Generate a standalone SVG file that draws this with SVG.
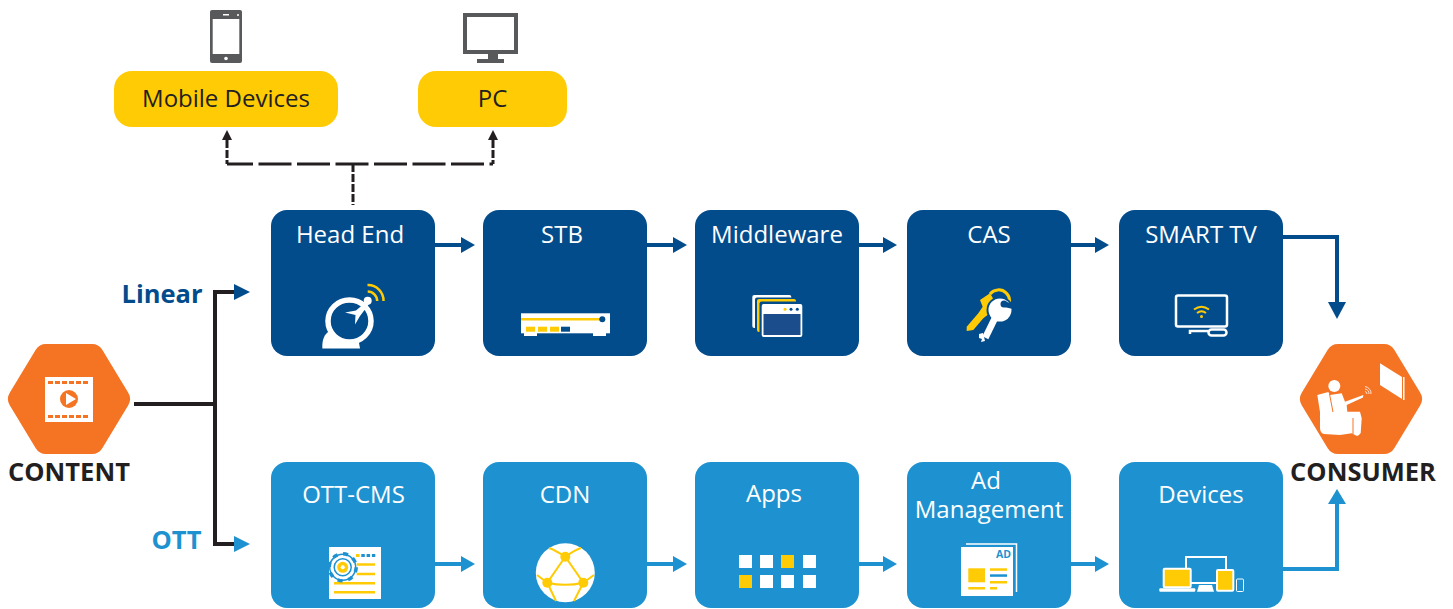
<svg xmlns="http://www.w3.org/2000/svg" width="1453" height="609" viewBox="0 0 1453 609">
<style>
text{font-family:"Open Sans","Noto Sans","Liberation Sans",sans-serif}
.t{font-size:24px;fill:#fff;text-anchor:middle}
.y{font-size:24px;fill:#231f20;text-anchor:middle}
.h{font-size:25.500px;font-weight:700;fill:#231f20;text-anchor:middle}
.dk{fill:#034c8c}.lt{fill:#1e92d0}.yl{fill:#ffcb05}.wh{fill:#fff}.gr{fill:#58595b}
.or{fill:#f47424;stroke:#f47424;stroke-width:24;stroke-linejoin:round}
.cd{fill:none;stroke:#034c8c;stroke-width:4}
.cl{fill:none;stroke:#1e92d0;stroke-width:4}
.ck{fill:none;stroke:#231f20;stroke-width:4}
.ws{fill:none;stroke:#fff;stroke-width:2.5}
.ys{fill:none;stroke:#ffcb05}
</style>
<g id="connectors">
<path class="ck" d="M134 404H215M234 292H215V544H234"/>
<polygon class="dk" points="234,284 250,292 234,300"/>
<polygon class="lt" points="234,536 250,544 234,552"/>
<g fill="none" stroke="#231f20" stroke-width="3">
<path d="M227 140V164" stroke-dasharray="8 2"/>
<path d="M493 140V164" stroke-dasharray="8 2"/>
<path d="M353 164V205" stroke-dasharray="8 2"/>
<path d="M227 164H493" stroke-dasharray="33 5.500" stroke-dashoffset="7"/>
</g>
<polygon fill="#231f20" points="227,130 222,140 232,140"/>
<polygon fill="#231f20" points="493,130 488,140 498,140"/>
<path class="cd" d="M435 245H462M647 245H674M859 245H884M1071 245H1096M1283 237H1337V304"/>
<polygon class="dk" points="461,237 475,245 461,253"/>
<polygon class="dk" points="673,237 687,245 673,253"/>
<polygon class="dk" points="883,237 897,245 883,253"/>
<polygon class="dk" points="1095,237 1109,245 1095,253"/>
<polygon class="dk" points="1328,302 1346,302 1337,319"/>
<path class="cl" d="M435 564H462M647 564H674M859 564H884M1071 564H1096M1283 569H1337V503"/>
<polygon class="lt" points="461,556 475,564 461,572"/>
<polygon class="lt" points="673,556 687,564 673,572"/>
<polygon class="lt" points="883,556 897,564 883,572"/>
<polygon class="lt" points="1095,556 1109,564 1095,572"/>
<polygon class="lt" points="1328,504 1346,504 1337,489"/>
</g>
<text x="162" y="302.500" fill="#034c8c" text-anchor="middle" style="font-size:25.500px;font-weight:700">Linear</text>
<text x="176.500" y="548.500" fill="#1e92d0" text-anchor="middle" style="font-size:25.500px;font-weight:700">OTT</text>
<g id="mobile">
<rect class="yl" x="114" y="71" width="224" height="56" rx="18"/>
<text class="y" x="226" y="107">Mobile Devices</text>
<rect class="gr" x="210" y="10" width="32" height="53" rx="2"/>
<rect class="wh" x="212.700" y="19" width="26.600" height="35"/>
<rect class="wh" x="223" y="14" width="6" height="1.500"/>
<circle class="wh" cx="238" cy="15" r="1"/><circle class="wh" cx="226" cy="58.500" r="1.800"/>
</g>
<g id="pc">
<rect class="yl" x="418" y="71" width="149" height="56" rx="18"/>
<text class="y" x="492.500" y="107">PC</text>
<rect class="gr" x="463" y="13" width="55" height="41"/>
<rect class="wh" x="467" y="17" width="47" height="33"/>
<rect class="gr" x="488" y="54" width="10" height="6"/>
<rect class="gr" x="477" y="59" width="27" height="4"/>
</g>
<g id="content">
<polygon class="or" points="46,356 92,356 118,399 92,442 46,442 20,399"/>
<rect class="wh" x="45" y="377" width="48" height="45"/>
<path d="M48 382.500H90M48 416.500H90" fill="none" stroke="#f47424" stroke-width="3" stroke-dasharray="5 2"/>
<circle cx="69" cy="399" r="9" fill="#f47424"/>
<polygon class="wh" points="66,393 76,399 66,405"/>
<text class="h" x="69" y="481">CONTENT</text>
</g>
<g id="headend">
<rect class="dk" x="271" y="210" width="164" height="146" rx="16"/>
<text class="t" x="350" y="243">Head End</text>
<path class="wh" d="M322.300 348.500C322 340 324 334 330 331L359 343L360 348.500Z"/>
<ellipse cx="349.500" cy="321" rx="21.500" ry="21" fill="#034c8c" stroke="#fff" stroke-width="5.500"/>
<polygon class="wh" points="345,312.500 356,310.500 366,302 369,304 360,316 355,324.500 355.500,315"/>
<circle class="wh" cx="367.700" cy="300.700" r="4"/>
<path class="ys" stroke-width="2.500" d="M367.700 291.500A9.500 9.500 0 0 1 377.200 301M367.500 285A15.500 15.500 0 0 1 383.500 301"/>
</g>
<g id="stb">
<rect class="dk" x="483" y="210" width="164" height="146" rx="16"/>
<text class="t" x="562" y="243">STB</text>
<rect class="wh" x="521" y="313.300" width="89" height="20"/>
<rect class="wh" x="524" y="333" width="13" height="3"/><rect class="wh" x="593" y="333" width="13" height="3"/>
<rect class="yl" x="521" y="318" width="79" height="2.500"/>
<circle class="dk" cx="602.300" cy="319.300" r="3"/>
<rect class="yl" x="526" y="326.700" width="9" height="5"/><rect class="yl" x="538" y="326.700" width="9" height="5"/><rect class="yl" x="550" y="326.700" width="9" height="5"/><rect class="dk" x="561" y="326.700" width="9" height="5"/>
</g>
<g id="middleware">
<rect class="dk" x="695" y="210" width="164" height="146" rx="16"/>
<text class="t" x="777" y="243">Middleware</text>
<rect class="wh" x="752.300" y="295" width="39" height="33" rx="2"/>
<rect class="dk" x="755" y="297.500" width="38" height="33" rx="2"/>
<rect class="yl" x="757" y="299" width="39" height="33" rx="2"/>
<rect class="dk" x="759.500" y="301.500" width="45" height="38" rx="2"/>
<rect class="wh" x="761.700" y="304" width="40.600" height="33" rx="2"/>
<rect x="763.500" y="314" width="37" height="21" fill="#1b4c8c"/>
<circle class="yl" cx="785" cy="309.300" r="1.500"/><circle class="dk" cx="791" cy="309.300" r="1.500"/><circle class="dk" cx="797.300" cy="309.300" r="1.500"/>
</g>
<g id="cas">
<rect class="dk" x="907" y="210" width="164" height="146" rx="16"/>
<text class="t" x="989" y="243">CAS</text>
<path class="yl" d="M980 300L990 293.300L995 301.700L991.700 311.700L983.300 318.300L973.300 330L966.700 331L966.700 326.700L978.300 313.300L982.700 306.700Z"/>
<path d="M990 294A11 11 0 1 1 1006 309" fill="none" stroke="#ffcb05" stroke-width="3"/>
<circle cx="1000" cy="310" r="13.500" class="dk"/>
<circle class="wh" cx="1000" cy="310" r="11.500"/>
<rect class="wh" x="-3.300" y="0" width="6.600" height="22" transform="translate(995,318) rotate(26)"/>
<polygon class="wh" points="983,333 979,334 979,338 982,339 981,342 985,341"/>
<circle class="dk" cx="1004" cy="304" r="3.500"/>
<polygon class="dk" points="1004,301 1013,304 1013,309 1004,307"/>
</g>
<g id="smarttv">
<rect class="dk" x="1119" y="210" width="164" height="146" rx="16"/>
<text class="t" x="1201" y="243">SMART TV</text>
<rect class="ws" x="1176" y="295.500" width="51" height="31" rx="2"/>
<path class="ws" d="M1190 334V331H1208"/>
<rect class="ws" x="1208.500" y="329.500" width="18" height="6" rx="3"/>
<path class="ys" stroke-width="2" d="M1194 309.500Q1201.500 304 1209 309.500M1197 313Q1201.500 309.500 1206 313"/>
<circle class="yl" cx="1201.500" cy="316.500" r="1.500"/>
</g>
<g id="consumer">
<polygon class="or" points="1338,356 1384,356 1410,399 1384,442 1338,442 1312,399"/>
<circle class="wh" cx="1334.300" cy="386" r="6"/>
<path class="wh" d="M1317.300 395L1328.300 392L1330 395L1341.700 393.300L1345 401.700L1363.300 395L1363 397.500L1346.700 405L1347.300 411.700L1360 411.700L1361.700 418.300L1360.700 433Q1358 437 1356 435.500L1351.700 433.300L1340 435L1324 434Q1320 433 1320 428L1320 412Z"/>
<path d="M1329.500 394L1333 412M1353 418V434" fill="none" stroke="#f47424" stroke-width="1"/>
<polygon class="wh" points="1380,363.300 1402,377 1402,399 1380,385"/>
<rect class="wh" x="1403" y="377" width="1.500" height="23"/>
<path d="M1365 386.500A7 7 0 0 1 1371 394M1365 389A4.500 4.500 0 0 1 1369 394M1365 391.500A2.500 2.500 0 0 1 1367 394" fill="none" stroke="#fff" stroke-width="0.800"/>
<text class="h" x="1363" y="481">CONSUMER</text>
</g>
<g id="ottcms">
<rect class="lt" x="271" y="462" width="164" height="146" rx="16"/>
<text class="t" x="353.500" y="503">OTT-CMS</text>
<rect class="wh" x="329" y="547" width="52" height="52"/>
<path class="ys" stroke-width="2.500" d="M356.700 564.500H375M356.700 574H375M334 583.300H375M334 592.300H375"/>
<rect class="yl" x="356" y="554" width="3.500" height="3"/>
<path d="M361.300 555.500H375.300" fill="none" stroke="#1e92d0" stroke-width="3" stroke-dasharray="3.500 1.800"/>
<circle cx="342.700" cy="567.300" r="13" fill="#fff" stroke="#1e92d0" stroke-width="1.500"/>
<circle cx="342.700" cy="567.300" r="13.500" fill="none" stroke="#1e92d0" stroke-width="3.500" stroke-dasharray="5 5.600"/>
<circle cx="342.700" cy="567.300" r="8.500" fill="#fff" stroke="#1e92d0" stroke-width="1.500"/>
<circle class="yl" cx="342.700" cy="567.300" r="5.500"/>
<circle class="wh" cx="342.700" cy="567.300" r="2"/>
</g>
<g id="cdn">
<rect class="lt" x="483" y="462" width="164" height="146" rx="16"/>
<text class="t" x="565" y="503">CDN</text>
<circle class="wh" cx="565.300" cy="572.700" r="29.500"/>
<g class="ys" stroke-width="2">
<path d="M565.300 556.700L547.300 582.700Q565 587 583.300 582.700ZM565.300 556.700Q555 550 549 548M565.300 556.700Q575 550 581 548M547.300 582.700L537 575M547.300 582.700L556 601M583.300 582.700L594 575M583.300 582.700L574 601"/>
</g>
<circle class="yl" cx="565.300" cy="556.700" r="5"/><circle class="yl" cx="547.300" cy="582.700" r="5"/><circle class="yl" cx="583.300" cy="582.700" r="5"/>
</g>
<g id="apps">
<rect class="lt" x="695" y="462" width="164" height="146" rx="16"/>
<text class="t" x="774" y="502">Apps</text>
<rect class="wh" x="739" y="555" width="13" height="13"/><rect class="wh" x="760" y="555" width="13" height="13"/><rect class="yl" x="781" y="555" width="13" height="13"/><rect class="wh" x="803" y="555" width="13" height="13"/>
<rect class="yl" x="739" y="575" width="13" height="13"/><rect class="wh" x="760" y="575" width="13" height="13"/><rect class="wh" x="781" y="575" width="13" height="13"/><rect class="wh" x="803" y="575" width="13" height="13"/>
</g>
<g id="ad">
<rect class="lt" x="907" y="462" width="164" height="146" rx="16"/>
<text class="t" x="986" y="489">Ad</text>
<text class="t" x="989" y="518">Management</text>
<path d="M966 544H1016.500V592" fill="none" stroke="#fff" stroke-width="1.500"/>
<rect class="wh" x="961" y="547" width="52" height="49"/>
<text x="996" y="558" style="font-size:10.500px;font-weight:700;fill:#1e92d0">AD</text>
<rect class="yl" x="968.300" y="568.300" width="16.700" height="14"/>
<rect class="yl" x="990" y="568.300" width="17" height="2.500"/><rect class="lt" x="990" y="574.300" width="17" height="2.500"/><rect class="yl" x="990" y="581" width="17" height="2.500"/>
<rect class="yl" x="968.300" y="587" width="16.700" height="2.500"/><rect class="yl" x="990" y="587" width="7" height="2.500"/>
</g>
<g id="devices">
<rect class="lt" x="1119" y="462" width="164" height="146" rx="16"/>
<text class="t" x="1201" y="503">Devices</text>
<path d="M1186 568V557H1226V570M1191 583H1216" fill="none" stroke="#fff" stroke-width="2"/>
<rect class="yl" x="1163.700" y="568.700" width="27" height="18.500" stroke="#fff" stroke-width="2" rx="1"/>
<rect class="wh" x="1159.300" y="588.300" width="36" height="3.400" rx="1"/>
<polygon class="wh" points="1199,585 1212,585 1214,591.700 1197,591.700"/>
<rect class="yl" x="1217" y="570" width="16.300" height="20.700" stroke="#fff" stroke-width="2" rx="1"/>
<rect x="1236.500" y="579" width="7" height="12.500" rx="1" fill="none" stroke="#fff" stroke-width="1"/>
</g>
</svg>
